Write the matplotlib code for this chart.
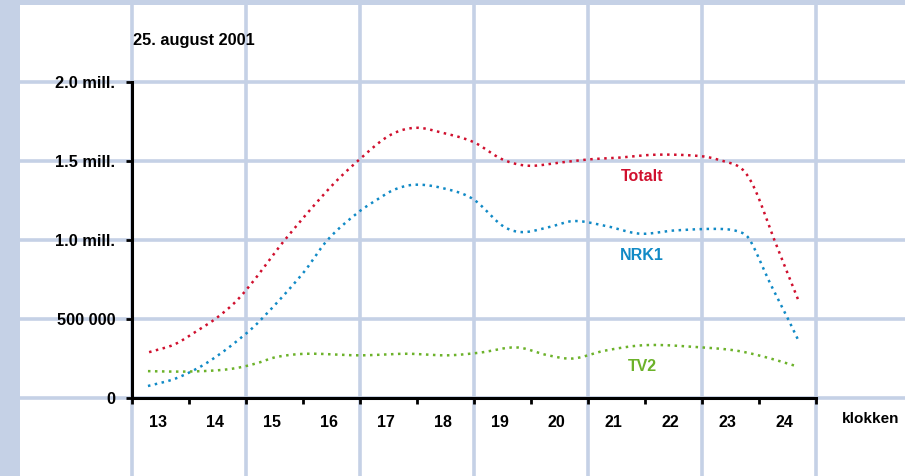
import numpy as np
import matplotlib.pyplot as plt
from matplotlib.patches import Rectangle
from matplotlib.transforms import ScaledTranslation

plt.rcParams['font.family'] = ['Liberation Sans', 'DejaVu Sans']

# viewers per hour, 25 August 2001 (millions)
totalt_t = [12.8, 13.25, 13.66, 13.96, 14.32, 14.63, 15.18, 15.97, 16.46, 17.01, 17.46, 17.93,
            18.49, 19.0, 19.45, 20.0, 20.5, 21.0, 21.7, 22.5, 22.86, 23.2, 23.43, 23.77, 24.2]
totalt_v = [0.29, 0.34, 0.43, 0.50, 0.61, 0.74, 1.00, 1.33, 1.50, 1.66, 1.71, 1.68,
            1.62, 1.51, 1.47, 1.49, 1.51, 1.52, 1.54, 1.53, 1.50, 1.45, 1.32, 1.00, 0.61]

nrk1_t = [12.78, 13.24, 13.66, 13.97, 14.34, 14.72, 15.5, 15.93, 16.45, 16.82, 17.11, 17.46,
          17.93, 18.48, 19.0, 19.34, 19.8, 20.25, 20.8, 21.41, 22.0, 22.82, 23.17, 23.34,
          23.69, 24.01, 24.21]
nrk1_v = [0.076, 0.12, 0.19, 0.26, 0.36, 0.48, 0.79, 1.00, 1.17, 1.26, 1.32, 1.35,
          1.33, 1.26, 1.09, 1.05, 1.08, 1.12, 1.09, 1.04, 1.06, 1.07, 1.05, 1.00,
          0.73, 0.50, 0.35]

tv2_t = [12.78, 13.4, 13.99, 14.34, 14.69, 15.04, 15.57, 16.5, 17.32, 18.03, 18.6, 19.25,
         19.8, 20.24, 20.8, 21.53, 22.5, 23.1, 23.6, 24.17]
tv2_v = [0.17, 0.167, 0.175, 0.19, 0.22, 0.26, 0.28, 0.27, 0.28, 0.27, 0.287, 0.32,
         0.27, 0.25, 0.30, 0.335, 0.32, 0.30, 0.26, 0.20]

hours = list(range(13, 25))
ytick_vals = [0, 0.5, 1.0, 1.5, 2.0]
ytick_labels = ['0', '500 000', '1.0 mill.', '1.5 mill.', '2.0 mill.']

RED = '#d0102e'
BLUE = '#118ac6'
GREEN = '#6cb22a'
GRID = '#c5d1e6'


def smooth(xs, ys, n=30):
    # cubic hermite through the read points (catmull-rom tangents)
    xs = np.asarray(xs, float)
    ys = np.asarray(ys, float)
    m = np.zeros_like(ys)
    m[1:-1] = (ys[2:] - ys[:-2]) / (xs[2:] - xs[:-2])
    m[0] = (ys[1] - ys[0]) / (xs[1] - xs[0])
    m[-1] = (ys[-1] - ys[-2]) / (xs[-1] - xs[-2])
    outx, outy = [], []
    for i in range(len(xs) - 1):
        h = xs[i + 1] - xs[i]
        t = np.linspace(0, 1, n, endpoint=False)
        h00 = 2*t**3 - 3*t**2 + 1
        h10 = t**3 - 2*t**2 + t
        h01 = -2*t**3 + 3*t**2
        h11 = t**3 - t**2
        outx.append(xs[i] + t*h)
        outy.append(h00*ys[i] + h10*h*m[i] + h01*ys[i+1] + h11*h*m[i+1])
    outx.append([xs[-1]])
    outy.append([ys[-1]])
    return np.concatenate(outx), np.concatenate(outy)


fig = plt.figure(figsize=(9.05, 4.76), dpi=100)
fig.patch.set_facecolor(GRID)
fig.patches.append(Rectangle((20/905, 0), 885/905, 471/476, transform=fig.transFigure,
                             facecolor='white', edgecolor='none', zorder=-5))

ax = fig.add_axes([132/905, 78/476, 684/905, 316/476])
ax.set_facecolor('none')
ax.set_xlim(12.5, 24.5)
ax.set_ylim(0, 2.0)

# background grid running over the whole white panel
for gx in np.arange(10.5, 27, 2):
    ax.axvline(gx, ymin=-0.4, ymax=1.4, color=GRID, lw=2.6, clip_on=False, zorder=0)
for gy in np.arange(0, 2.6, 0.5):
    ax.axhline(gy, xmin=-0.3, xmax=1.3, color=GRID, lw=2.6, clip_on=False, zorder=0)

for t, v, c in [(totalt_t, totalt_v, RED), (nrk1_t, nrk1_v, BLUE), (tv2_t, tv2_v, GREEN)]:
    sx, sy = smooth(t, v)
    ax.plot(sx, sy, color=c, lw=1.8, linestyle=(0, (1, 1.8)), zorder=3, clip_on=False)

lab = dict(fontsize=11.5, fontweight='bold', ha='center', va='center')
ax.text(21.45, 1.405, 'Totalt', color=RED, **lab)
ax.text(21.45, 0.905, 'NRK1', color=BLUE, **lab)
ax.text(21.45, 0.20, 'TV2', color=GREEN, **lab)

for s in ['top', 'right']:
    ax.spines[s].set_visible(False)
for s in ['left', 'bottom']:
    ax.spines[s].set_linewidth(2.2)
    ax.spines[s].set_color('black')
    ax.spines[s].set_zorder(4)

ax.set_yticks(ytick_vals)
ax.set_yticklabels(ytick_labels, fontsize=11.8, fontweight='bold')
ax.tick_params(axis='y', length=4, width=2, pad=8)

ax.set_xticks(hours)
ax.set_xticklabels([str(h) for h in hours], fontsize=11.5, fontweight='bold')
ax.set_xticks(np.arange(12.5, 24.6, 1), minor=True)
ax.tick_params(axis='x', which='major', length=0, pad=12)
ax.tick_params(axis='x', which='minor', length=4, width=2)
shift = ScaledTranslation(-3/100, 0, fig.dpi_scale_trans)
for lbl in ax.get_xticklabels():
    lbl.set_transform(lbl.get_transform() + shift)

ax.text(24.95, -0.13, 'klokken', fontsize=11, fontweight='bold', ha='left', va='center')
ax.text(12.52, 2.26, '25. august 2001', fontsize=11.8, fontweight='bold', ha='left', va='center',
        clip_on=False)

fig.savefig('out.png', dpi=100, facecolor=fig.get_facecolor())
